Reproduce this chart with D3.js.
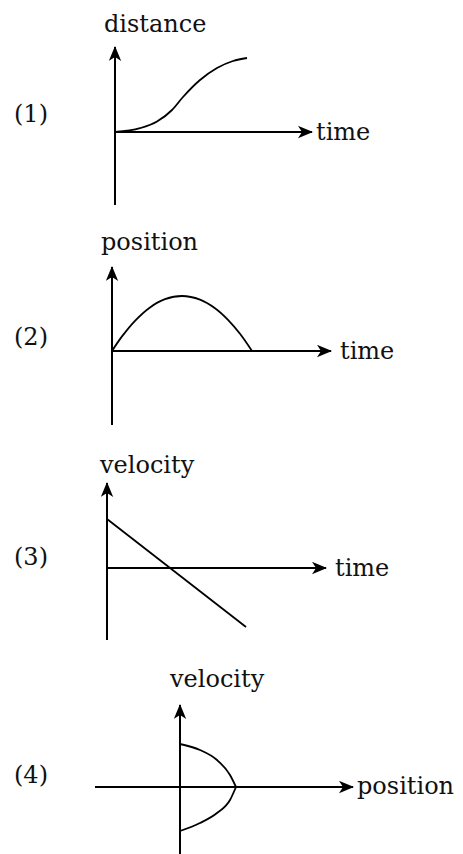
<!DOCTYPE html>
<html><head><meta charset="utf-8">
<script src="https://cdn.jsdelivr.net/npm/d3@7"></script>
<style>
html,body{margin:0;padding:0;background:#fff;}
svg{display:block;}
text{font-family:"DejaVu Serif","Liberation Serif",serif;fill:#111;}
</style></head>
<body>
<svg id="c" width="463" height="854"></svg>
<script>
// ---- data ----
const panelLabels = ["(1)", "(2)", "(3)", "(4)"];
const yAxisLabels = ["distance", "position", "velocity", "velocity"];
const xAxisLabels = ["time", "time", "time", "position"];

// (1) distance vs time: S-shaped curve
const curve1 = [[0,0],[1.25,0.19],[2.1,0.52],[2.85,1.1],[3.4,1.75],[4.25,2.6],[5.1,3.2],[5.9,3.55],[6.6,3.7]];
// (2) position vs time: arch
const curve2 = [[0,0],[0.5,0.73],[1.15,1.51],[1.9,2.18],[2.65,2.59],[3.5,2.75],[4.4,2.57],[5.15,2.14],[5.8,1.56],[6.4,0.86],[7,0]];
// (3) velocity vs time: straight decreasing line
const curve3 = [[0,2.45],[6.95,-2.95]];
// (4) velocity vs position: two branches meeting on the position axis
const curve4Upper = [[0,2.15],[1,1.85],[1.85,1.35],[2.5,0.6],[2.8,0]];
const curve4Lower = [[0,-2.2],[1,-1.8],[1.85,-1.3],[2.5,-0.65],[2.8,0]];

// ---- layout ----
const UNIT = 20;
const panels = [
  {ox:115, oy:132, xMin:0,    xMax:9.85, yMin:-3.65, yMax:4.25, data:[curve1], curve:d3.curveMonotoneX},
  {ox:112, oy:351, xMin:0,    xMax:10.95,yMin:-3.7,  yMax:4.2,  data:[curve2], curve:d3.curveCatmullRom},
  {ox:107, oy:568, xMin:0,    xMax:10.95,yMin:-3.6,  yMax:4.25, data:[curve3], curve:d3.curveLinear},
  {ox:180, oy:787, xMin:-4.25,xMax:8.65, yMin:-3.4,  yMax:4.1,  data:[curve4Upper, curve4Lower], curve:d3.curveMonotoneX}
];
const labelPos = [
  {py:122, yl:[104,32],  xl:[316,140]},
  {py:345, yl:[101,250], xl:[340,359]},
  {py:565, yl:[100,473], xl:[335,576]},
  {py:783, yl:[170,687], xl:[357,794]}
];

const svg = d3.select("#c");

const defs = svg.append("defs");
defs.append("marker").attr("id","arr")
  .attr("markerUnits","userSpaceOnUse")
  .attr("viewBox","0 0 15 13").attr("refX",14).attr("refY",6.5)
  .attr("markerWidth",15).attr("markerHeight",13).attr("orient","auto")
  .append("path").attr("d","M0,0.3 L15,6.5 L0,12.7 L4,6.5 Z").attr("fill","#000");

panels.forEach((p, i) => {
  const x = d3.scaleLinear().domain([0,1]).range([p.ox, p.ox + UNIT]);
  const y = d3.scaleLinear().domain([0,1]).range([p.oy, p.oy - UNIT]);
  const g = svg.append("g");

  // axes
  g.append("line")
    .attr("x1", x(p.xMin)).attr("y1", y(0))
    .attr("x2", x(p.xMax)).attr("y2", y(0))
    .attr("stroke","#000").attr("stroke-width",2)
    .attr("marker-end","url(#arr)");
  g.append("line")
    .attr("x1", x(0)).attr("y1", y(p.yMin))
    .attr("x2", x(0)).attr("y2", y(p.yMax))
    .attr("stroke","#000").attr("stroke-width",2)
    .attr("marker-end","url(#arr)");

  // curves
  const line = d3.line().x(d => x(d[0])).y(d => y(d[1])).curve(p.curve);
  p.data.forEach(series => {
    g.append("path").attr("d", line(series))
      .attr("fill","none").attr("stroke","#000").attr("stroke-width",1.8);
  });

  const L = labelPos[i];
  g.append("text").attr("x",14).attr("y",L.py).style("font-size","24px").text(panelLabels[i]);
  g.append("text").attr("x",L.yl[0]).attr("y",L.yl[1]).style("font-size","24px").text(yAxisLabels[i]);
  g.append("text").attr("x",L.xl[0]).attr("y",L.xl[1]).style("font-size","24px").text(xAxisLabels[i]);
});
</script>
</body></html>
